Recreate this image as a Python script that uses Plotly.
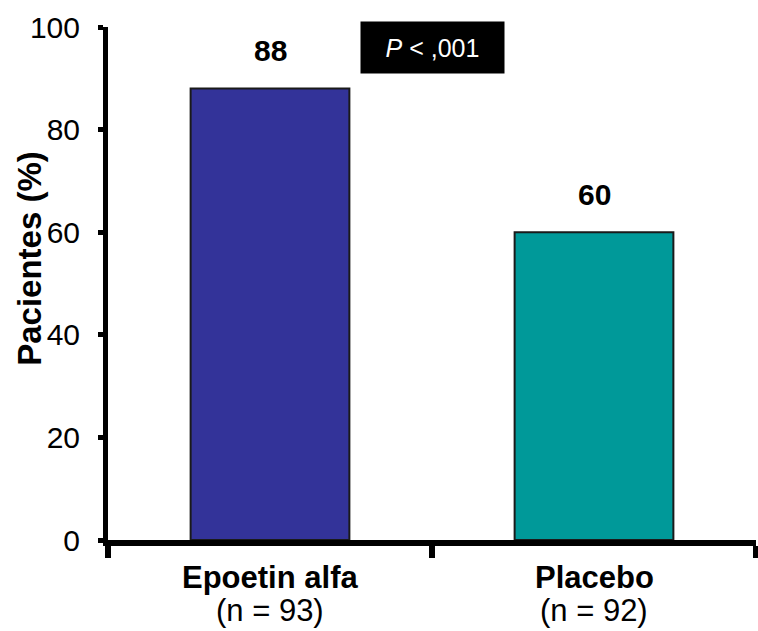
import plotly.graph_objects as go

# Data
groups = ["Epoetin alfa", "Placebo"]
group_n = ["(n = 93)", "(n = 92)"]
positions = [0.5, 1.5]
percent = [88, 60]
bar_colors = ["#333399", "#009999"]
y_ticks = [0, 20, 40, 60, 80, 100]
p_text = "<i>P</i> < ,001"

FONT = "Arial, Liberation Sans, sans-serif"

fig = go.Figure()
fig.add_trace(go.Bar(
    x=positions,
    y=percent,
    width=0.49,
    marker=dict(color=bar_colors, line=dict(color="#1a1a1a", width=2)),
    hoverinfo="skip",
))

# value labels above bars
for xp, v in zip(positions, percent):
    fig.add_annotation(x=xp, y=v, xref="x", yref="y", text=f"<b>{v}</b>",
                       showarrow=False, yanchor="middle", yshift=38,
                       font=dict(family=FONT, size=30, color="black"))

# category labels under the axis
for xp, g, n in zip(positions, groups, group_n):
    fig.add_annotation(x=xp, y=0, xref="x", yref="y", text=f"<b>{g}</b>",
                       showarrow=False, yanchor="middle", yshift=-37,
                       font=dict(family=FONT, size=31, color="black"))
    fig.add_annotation(x=xp, y=0, xref="x", yref="y", text=n,
                       showarrow=False, yanchor="middle", yshift=-70,
                       font=dict(family=FONT, size=31, color="black"))

# y axis title
fig.add_annotation(x=(29 - 107.5) / 648.5, y=(540 - 258) / 513.5,
                   xref="paper", yref="paper", text="<b>Pacientes (%)</b>",
                   textangle=-90, showarrow=False,
                   xanchor="center", yanchor="middle",
                   font=dict(family=FONT, size=33, color="black"))

# significance box
fig.add_annotation(x=(432.5 - 107.5) / 648.5, y=(540 - 47.5) / 513.5,
                   xref="paper", yref="paper", text=p_text,
                   showarrow=False, xanchor="center", yanchor="middle",
                   width=143, height=51, bgcolor="black", borderpad=0,
                   font=dict(family=FONT, size=25, color="white"))

fig.update_layout(
    width=758, height=631,
    margin=dict(l=107.5, r=2, t=26.5, b=91, pad=0),
    plot_bgcolor="white", paper_bgcolor="white",
    showlegend=False,
    font=dict(family=FONT, color="black"),
)
fig.update_xaxes(
    range=[0, 2], tickmode="array", tickvals=[0, 1, 2], ticktext=["", "", ""],
    ticks="outside", ticklen=12, tickwidth=6, tickcolor="black",
    showline=True, linewidth=6, linecolor="black",
    showgrid=False, zeroline=False, fixedrange=True,
)
fig.update_yaxes(
    range=[0, 100], tickmode="array", tickvals=y_ticks,
    ticks="outside", ticklen=5, tickwidth=5, tickcolor="black",
    showline=True, linewidth=5, linecolor="black",
    showgrid=False, zeroline=False,
    tickfont=dict(family=FONT, size=30, color="black"),
    ticklabelstandoff=12,
)

fig.write_html("out.html")
